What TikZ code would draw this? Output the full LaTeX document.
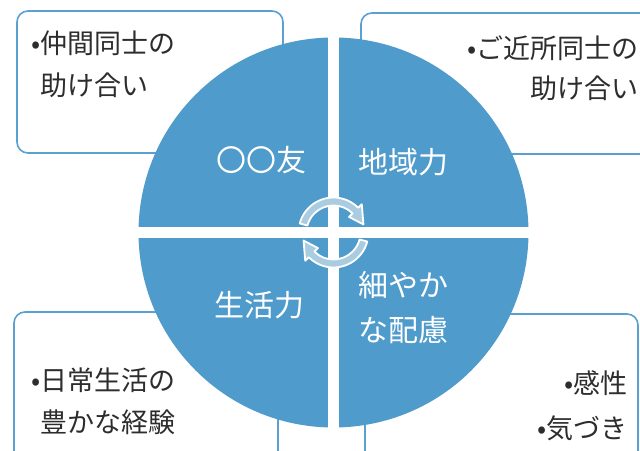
\documentclass[tikz,border=0pt]{standalone}
\usepackage{fontspec}
\setmainfont{Noto Sans CJK JP}
\definecolor{circblue}{RGB}{78,155,204}
\definecolor{boxblue}{RGB}{90,160,208}
\definecolor{arrowfill}{RGB}{170,204,224}
\definecolor{txt}{RGB}{45,45,45}
\begin{document}
\begin{tikzpicture}[x=1pt,y=1pt,
  infobox/.style={draw=boxblue, line width=1.6pt, rounded corners=11pt, fill=white, inner sep=0pt},
  boxtext/.style={text=txt, inner sep=0pt},
  circlabel/.style={text=white, inner sep=0pt, font=\fontsize{30}{45}\selectfont},
  cyclearrow/.style={fill=arrowfill, draw=white, line width=1.8pt, line join=round}]
\useasboundingbox (0,0) rectangle (640,450);
\begin{scope}
\clip (0,0) rectangle (640,450);
% corner boxes
\node[infobox, minimum width=266pt, minimum height=142pt] (tlbox) at (150,368) {};
\node[infobox, minimum width=309pt, minimum height=141pt] (trbox) at (515.5,366.5) {};
\node[infobox, minimum width=264pt, minimum height=158pt] (blbox) at (146,59) {};
\node[infobox, minimum width=273pt, minimum height=156pt] (brbox) at (501.5,58) {};
% disc
\node[circle, fill=circblue, minimum size=390pt, inner sep=0pt] (disc) at (333.5,217.5) {};
\draw[white, line width=11pt] (disc.north) -- (disc.south);
\draw[white, line width=11pt] (disc.west) -- (disc.east);
% cycle arrows
\begin{scope}[shift={(333.5,217.5)}]
\draw[cyclearrow] (165:35) arc[start angle=165, end angle=45, radius=35]
  -- (45:40) -- (15:31) -- (45:22) -- (45:27)
  arc[start angle=45, end angle=165, radius=27] -- cycle;
\draw[cyclearrow] (-15:35) arc[start angle=-15, end angle=-135, radius=35]
  -- (-135:40) -- (-165:31) -- (-135:22) -- (-135:27)
  arc[start angle=-135, end angle=-15, radius=27] -- cycle;
\end{scope}
\end{scope}
% box texts
\node[boxtext, align=left, anchor=west, font=\fontsize{27}{42}\selectfont] (tltext) at (31,386) {•仲間同士の\\\phantom{•}助け合い};
\node[boxtext, align=right, anchor=east, font=\fontsize{27}{40}\selectfont] (trtext) at (639,382) {•ご近所同士の\\助け合い};
\node[boxtext, align=left, anchor=west, font=\fontsize{27}{42}\selectfont] (bltext) at (31,49) {•日常生活の\\\phantom{•}豊かな経験};
\node[boxtext, align=right, anchor=east, font=\fontsize{27}{45}\selectfont] (brtext) at (628,44.5) {•感性\\•気づき};
% circle labels
\node[circlabel] (friend) at (261,290) {〇〇友};
\node[circlabel] (region) at (403,288) {地域力};
\node[circlabel] (life) at (259,145) {生活力};
\node[circlabel, align=left, anchor=west] (care) at (358,142.5) {細やか\\な配慮};
\end{tikzpicture}
\end{document}
